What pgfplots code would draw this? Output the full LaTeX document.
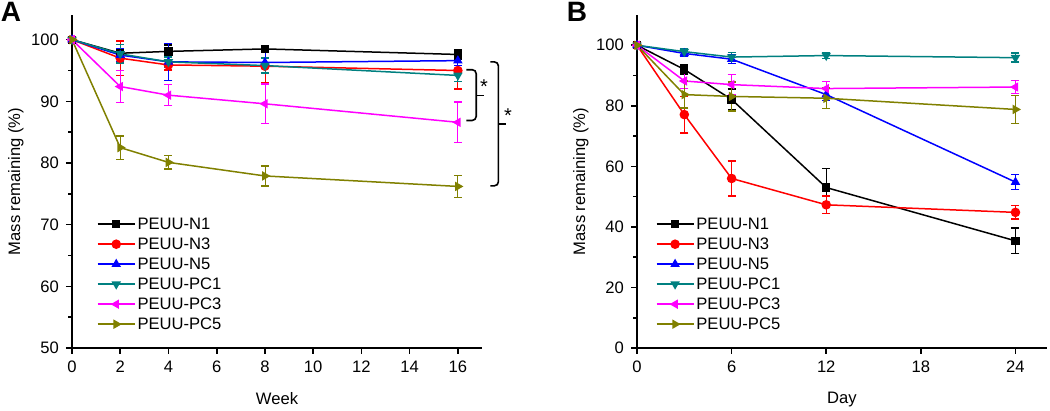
\documentclass[border=0pt]{standalone}
\usepackage{fontspec}
\setmainfont{Liberation Sans}
\usepackage{pgfplots}
\pgfplotsset{compat=1.18}
\definecolor{cteal}{RGB}{0,128,128}
\definecolor{colive}{RGB}{128,128,0}
\definecolor{cmag}{RGB}{255,0,255}

\pgfplotsset{
  massstyle/.style={
    scale only axis, width=205pt, height=166.5pt,
    axis lines=left, axis line style={-, line width=0.8pt},
    tick align=outside, major tick length=3pt, minor tick length=2pt,
    every tick/.style={line width=0.8pt, black},
    ticklabel style={font=\fontsize{8.3}{9}\selectfont},
    /pgf/number format/assume math mode=true,
    label style={font=\fontsize{8.3}{9}\selectfont},
    xlabel style={yshift=-3pt},
    ylabel style={yshift=-3pt},
    clip=false,
    legend cell align=left,
    legend style={draw=none, fill=none, font=\fontsize{8.3}{9}\selectfont,
      row sep=1pt, inner sep=0pt, anchor=north west,
      nodes={inner sep=1pt, text height=6pt, text depth=1pt}},
    legend image code/.code={\draw[mark repeat=2,mark phase=2] plot coordinates {(0pt,0pt)(9.25pt,0pt)(18.5pt,0pt)};},
    every axis plot/.append style={line width=0.75pt, mark size=2pt},
  },
  eb/.style={error bars/.cd, y dir=both, y explicit,
    error mark options={rotate=90, mark size=2pt, line width=0.75pt}},
}

\begin{document}
\begin{tikzpicture}
\useasboundingbox (0,0) rectangle (525pt,205.5pt);

\node[font=\fontsize{14}{16}\selectfont\bfseries] at (5.5pt,199.5pt) {A};
\node[font=\fontsize{14}{16}\selectfont\bfseries] at (288.5pt,199.5pt) {B};

% panel A
\begin{axis}[massstyle, at={(36pt,31.5pt)}, anchor=south west,
  xmin=0, xmax=17, ymin=50, ymax=104,
  xtick={0,2,...,16}, ytick={50,60,...,100}, minor ytick={55,65,...,95},
  xlabel={Week}, ylabel={Mass remaining (\%)},
  legend style={at={(rel axis cs:0.06,0.40)}}]
\addplot[black, mark=square*, mark size=1.7pt, eb] coordinates {
  (0,100) (2,97.8) +- (0,0.8) (4,98.1) +- (0,1.0) (8,98.5) +- (0,0.5) (16,97.6) +- (0,0.7)};
\addplot[red, mark=*, eb] coordinates {
  (0,100) (2,97.0) +- (0,2.8) (4,95.9) +- (0,0.8) (8,95.7) +- (0,2.7) (16,95.0) +- (0,3.0)};
\addplot[blue, mark=triangle*, eb] coordinates {
  (0,100) (2,97.5) +- (0,1.0) (4,96.4) +- (0,3.0) (8,96.3) +- (0,1.8) (16,96.6) +- (0,0.8)};
\addplot[cteal, mark=triangle*, mark options={rotate=180}, eb] coordinates {
  (0,100) (2,97.7) +- (0,1.5) (4,96.4) +- (0,0.8) (8,95.8) +- (0,1.2) (16,94.2) +- (0,1.0)};
\addplot[cmag, mark=triangle*, mark options={rotate=90}, eb] coordinates {
  (0,100) (2,92.4) +- (0,2.6) (4,91.0) +- (0,1.7) (8,89.6) +- (0,3.2) (16,86.6) +- (0,3.3)};
\addplot[colive, mark=triangle*, mark options={rotate=-90}, eb] coordinates {
  (0,100) (2,82.5) +- (0,1.9) (4,80.1) +- (0,1.1) (8,77.9) +- (0,1.6) (16,76.2) +- (0,1.8)};
\legend{PEUU-N1,PEUU-N3,PEUU-N5,PEUU-PC1,PEUU-PC3,PEUU-PC5}
\draw[line width=0.8pt, rounded corners=2pt] (axis cs:16.35,95.13) -- (axis cs:16.76,95.13) -- (axis cs:16.76,86.9) -- (axis cs:16.35,86.9);
\draw[line width=0.8pt] (axis cs:16.76,90.96) -- (axis cs:17.1,90.96);
\draw[line width=0.8pt, rounded corners=2pt] (axis cs:17.35,96.4) -- (axis cs:17.68,96.4) -- (axis cs:17.68,76.3) -- (axis cs:17.35,76.3);
\draw[line width=0.8pt] (axis cs:17.68,86.3) -- (axis cs:18.0,86.3);
\node[font=\fontsize{10}{12}\selectfont, yshift=-2pt] at (axis cs:17.08,92.97) {*};
\node[font=\fontsize{10}{12}\selectfont, yshift=-2pt] at (axis cs:18.08,88.36) {*};
\end{axis}

% panel B
\begin{axis}[massstyle, at={(318.5pt,31.5pt)}, anchor=south west,
  xmin=0, xmax=26, ymin=0, ymax=110,
  xtick={0,6,...,24}, ytick={0,20,...,100}, minor ytick={10,30,...,90},
  xlabel={Day}, ylabel={Mass remaining (\%)},
  legend style={at={(rel axis cs:0.045,0.40)}}]
\addplot[black, mark=square*, mark size=1.7pt, eb] coordinates {
  (0,100) (3,92.0) +- (0,1.5) (6,82.1) +- (0,3.5) (12,53.0) +- (0,6.3) (24,35.4) +- (0,4.2)};
\addplot[red, mark=*, eb] coordinates {
  (0,100) (3,77.1) +- (0,6.0) (6,56.0) +- (0,5.8) (12,47.3) +- (0,2.9) (24,44.8) +- (0,2.2)};
\addplot[blue, mark=triangle*, eb] coordinates {
  (0,100) (3,97.3) +- (0,1.0) (6,95.4) +- (0,1.5) (12,83.7) +- (0,2.0) (24,54.8) +- (0,2.5)};
\addplot[cteal, mark=triangle*, mark options={rotate=180}, eb] coordinates {
  (0,100) (3,97.9) +- (0,1.0) (6,96.1) +- (0,1.5) (12,96.6) +- (0,1.0) (24,95.9) +- (0,1.5)};
\addplot[cmag, mark=triangle*, mark options={rotate=90}, eb] coordinates {
  (0,100) (3,88.2) +- (0,2.5) (6,87.0) +- (0,3.3) (12,85.7) +- (0,2.3) (24,86.2) +- (0,2.2)};
\addplot[colive, mark=triangle*, mark options={rotate=-90}, eb] coordinates {
  (0,100) (3,83.7) +- (0,4.5) (6,83.1) +- (0,4.8) (12,82.5) +- (0,3.4) (24,78.8) +- (0,4.6)};
\legend{PEUU-N1,PEUU-N3,PEUU-N5,PEUU-PC1,PEUU-PC3,PEUU-PC5}
\end{axis}
\end{tikzpicture}
\end{document}
